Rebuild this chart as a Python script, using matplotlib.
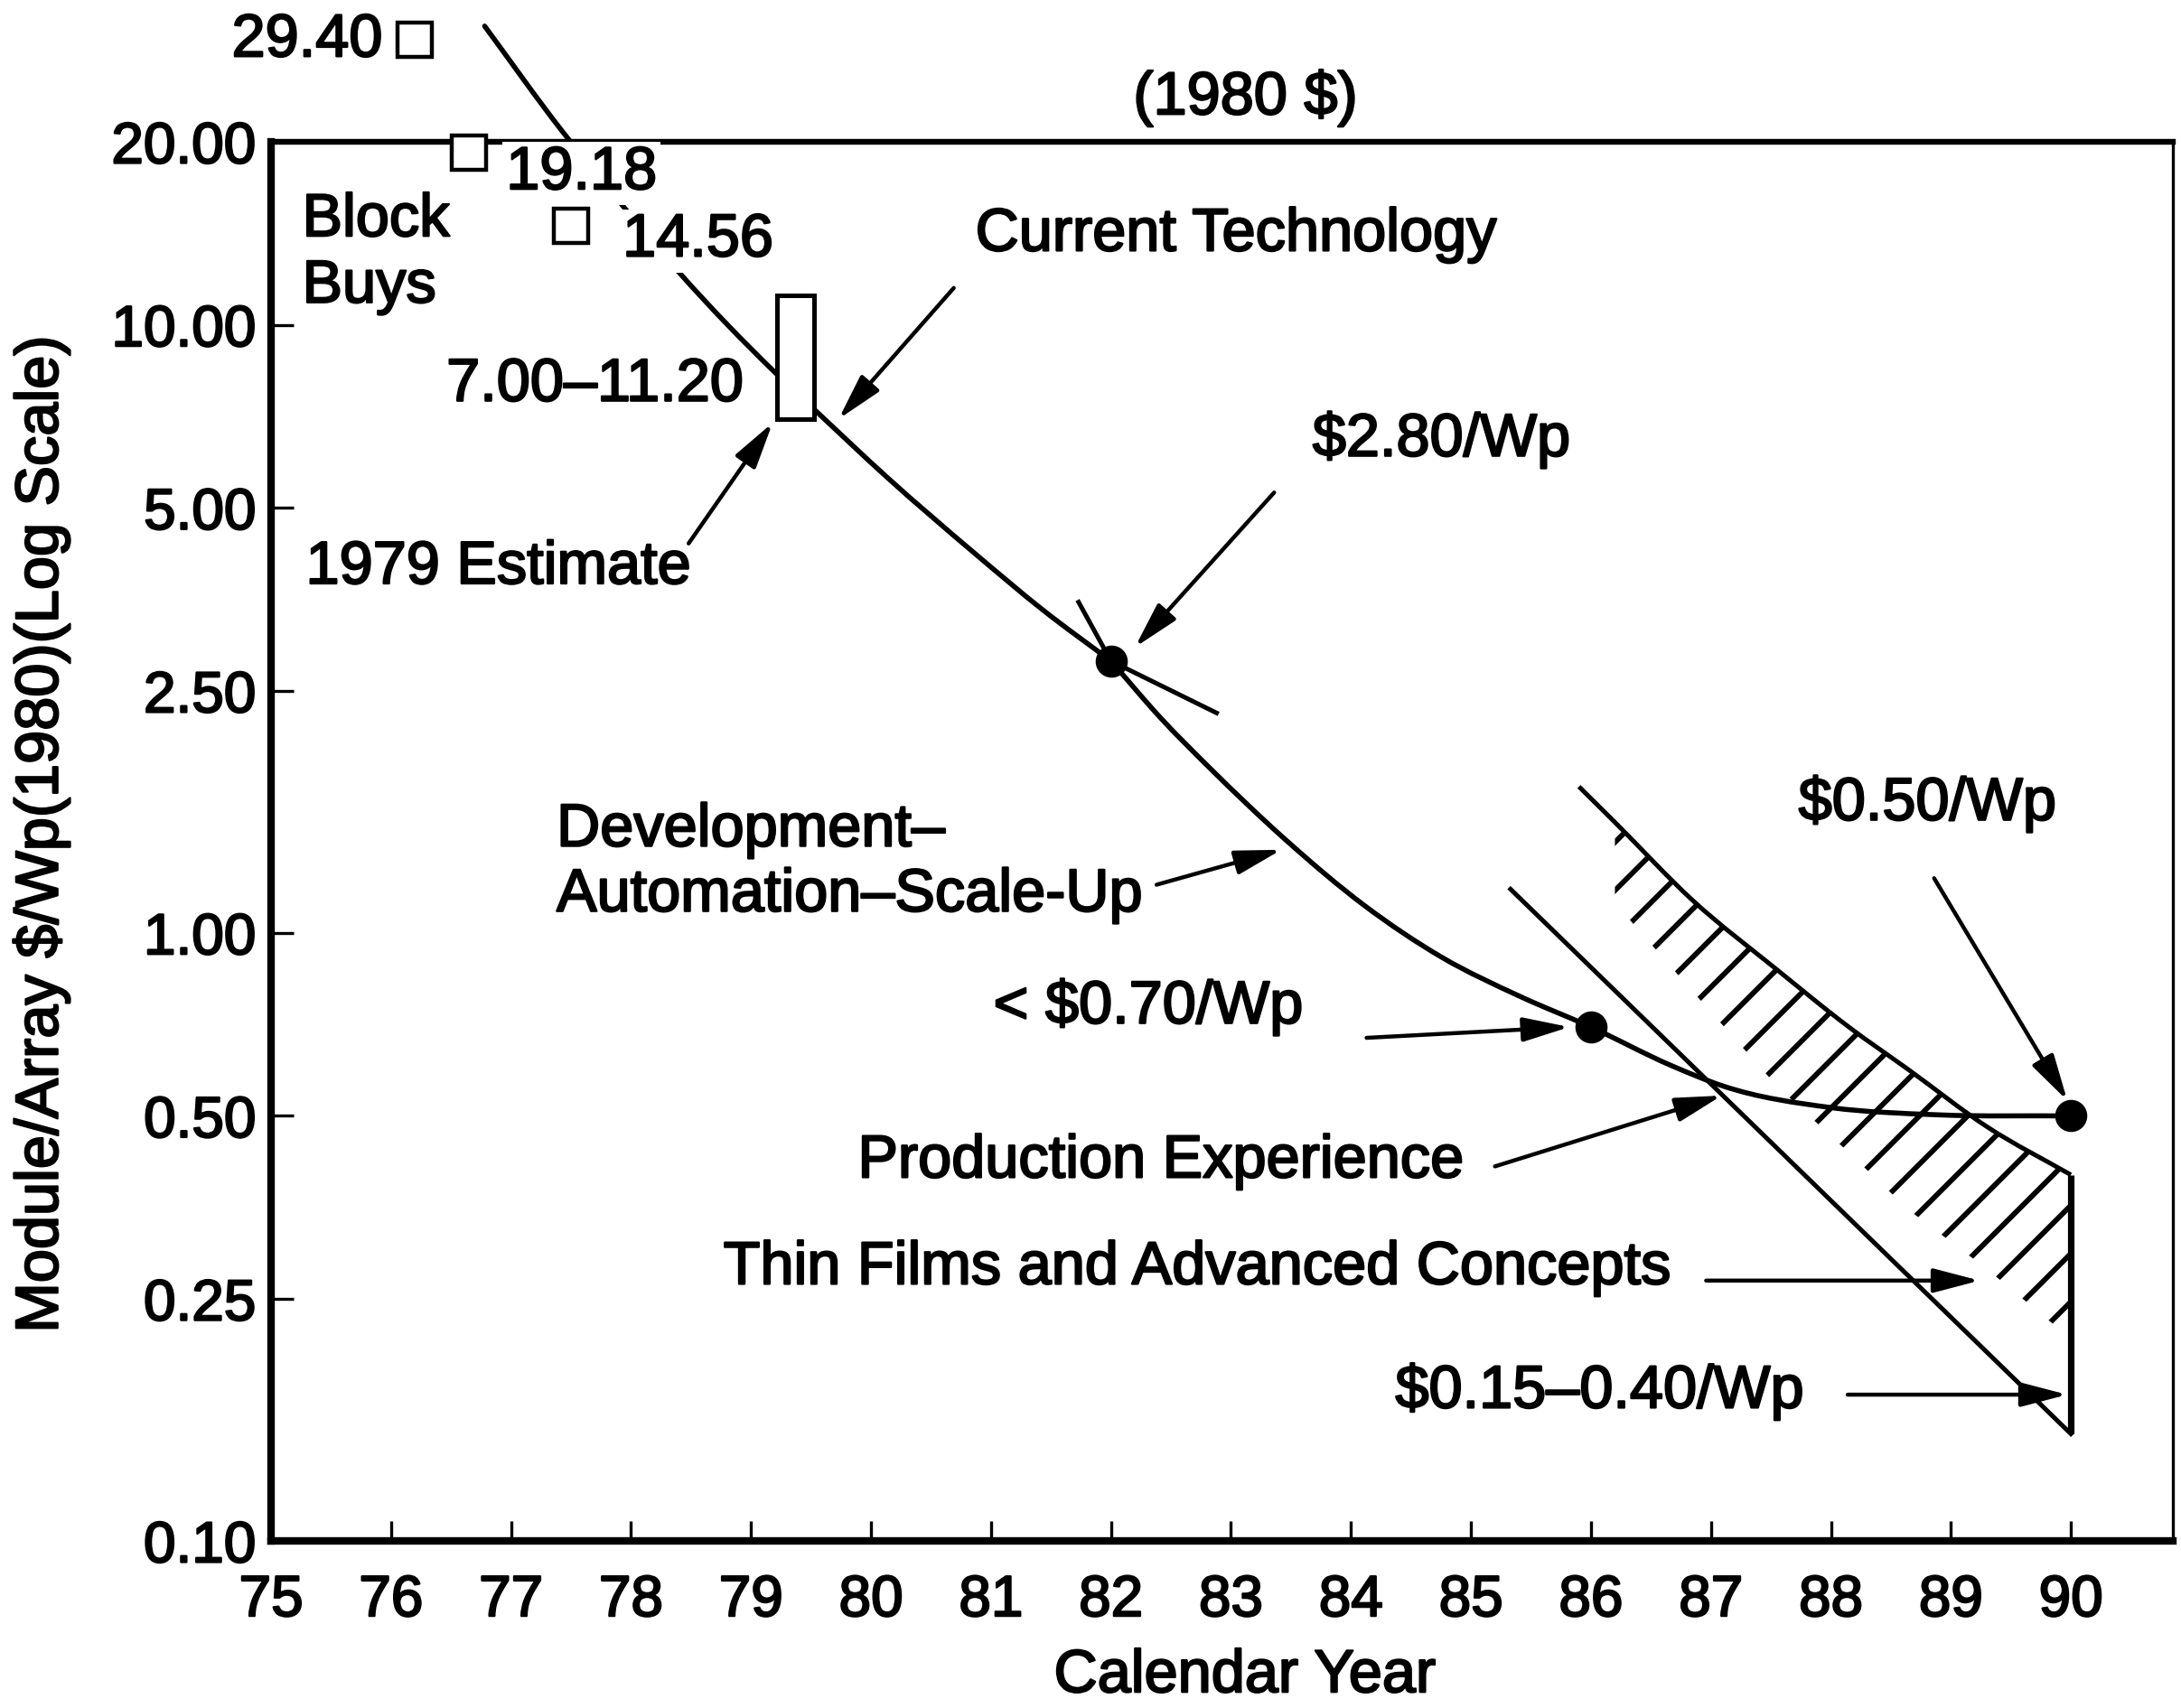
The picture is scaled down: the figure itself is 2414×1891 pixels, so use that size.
import numpy as np
import matplotlib
matplotlib.use("Agg")
import matplotlib.pyplot as plt
import matplotlib.patheffects as pe
from matplotlib.path import Path
from matplotlib.patches import PathPatch
from matplotlib.text import Text
from matplotlib.ticker import NullLocator

DPI = 160
S = 200 / DPI          # point sizes below are given for 200 dpi

plt.rcParams['font.family'] = ['Liberation Sans', 'DejaVu Sans']
plt.rcParams['text.parse_math'] = False
plt.rcParams['hatch.linewidth'] = 2.1 * S

# ---------------------------------------------------------------- data
years = list(range(75, 91))
cost_ticks = [0.10, 0.25, 0.50, 1.00, 2.50, 5.00, 10.00, 20.00]

# block buy purchases
block_buy_years = [76.2, 76.65, 77.5]
block_buy_costs = [29.40, 19.18, 14.56]

# 1979 estimate (range bar)
estimate_year = 79.37
estimate_low = 7.00
estimate_high = 11.20

# price trend: block buys -> current technology (up to 1982) ...
trend_early_years = [76.78, 77.42, 77.83, 78.40, 79.20, 79.53, 80.14, 80.87,
                     81.43, 82.00]
trend_early_costs = [31.0, 20.9, 16.6, 12.2, 8.35, 7.25, 5.60, 4.20,
                     3.40, 2.80]
# ... development / automation / scale-up, then production experience
trend_late_years = [82.00, 82.42, 82.82, 83.46, 84.11, 84.76, 85.41, 86.00,
                    86.67, 87.10, 88.00, 88.90, 90.00]
trend_late_costs = [2.80, 2.25, 1.87, 1.42, 1.11, 0.911, 0.786, 0.70,
                    0.605, 0.56, 0.516, 0.502, 0.50]

# program milestones
milestone_years = [82, 86, 90]
milestone_costs = [2.80, 0.70, 0.50]

# current-technology extrapolation through the 1982 milestone
tangent_years = [81.73, 82.00, 82.88]
tangent_costs = [3.50, 2.80, 2.30]

# thin films and advanced concepts
thin_upper_years = [85.90, 86.20, 86.85, 87.55, 88.15, 88.65, 89.30, 90.00]
thin_upper_costs = [1.74, 1.52, 1.13, 0.87, 0.70, 0.595, 0.48, 0.40]
thin_band_lower = [1.12, 0.80, 0.56, 0.435, 0.35, 0.28, 0.215]
thin_lower_years = [85.33, 90.00]
thin_lower_costs = [1.18, 0.15]
target_1990_range = [0.15, 0.40]


def smooth_path(xs, ys):
    """Cubic Hermite path through the points, built in log-cost space."""
    x = np.asarray(xs, float)
    ly = np.log10(np.asarray(ys, float))
    m = np.gradient(ly, x)
    verts = [(x[0], 10 ** ly[0])]
    codes = [Path.MOVETO]
    for i in range(len(x) - 1):
        h = x[i + 1] - x[i]
        verts += [(x[i] + h / 3, 10 ** (ly[i] + m[i] * h / 3)),
                  (x[i + 1] - h / 3, 10 ** (ly[i + 1] - m[i + 1] * h / 3)),
                  (x[i + 1], 10 ** ly[i + 1])]
        codes += [Path.CURVE4] * 3
    return Path(verts, codes)


# ---------------------------------------------------------------- figure
fig = plt.figure(figsize=(2414 / DPI, 1891 / DPI), dpi=DPI)
ax = fig.add_axes([0.12428, 0.09783, 0.87200, 0.81914])
ax.set_yscale('log')
ax.set_xlim(75, 90.85)
ax.set_ylim(0.1, 20)

TXT = 24 * S
LW = 2.0 * S

# trend curve (extends above the frame toward the first block buy)
for xs, ys in [(trend_early_years, trend_early_costs),
               (trend_late_years, trend_late_costs)]:
    ax.add_patch(PathPatch(smooth_path(xs, ys), fill=False, edgecolor='black',
                           lw=LW, zorder=2, clip_on=False,
                           capstyle='round', joinstyle='round'))
ax.plot(tangent_years, tangent_costs, color='black', lw=1.8 * S, zorder=2)

# block buys
ax.plot(block_buy_years, block_buy_costs, linestyle='none', marker='s',
        markersize=14 * S, markerfacecolor='white', markeredgecolor='black',
        markeredgewidth=1.6 * S, clip_on=False, zorder=6)

# 1979 estimate bar
ax.bar(estimate_year, estimate_high - estimate_low, bottom=estimate_low,
       width=0.31, facecolor='white', edgecolor='black', linewidth=1.8 * S,
       zorder=4)

# milestones
ax.plot(milestone_years, milestone_costs, linestyle='none', marker='o',
        markersize=12 * S, color='black', zorder=6)

# thin films band
ax.add_patch(PathPatch(smooth_path(thin_upper_years, thin_upper_costs),
                       fill=False, edgecolor='black', lw=1.8 * S, zorder=3))
ax.plot(thin_lower_years, thin_lower_costs, color='black', lw=1.8 * S,
        zorder=3)
ax.fill_between(thin_upper_years[1:], thin_band_lower, thin_upper_costs[1:],
                facecolor='none', edgecolor='black', hatch='/', linewidth=0,
                zorder=2)
ax.vlines(90, target_1990_range[0], target_1990_range[1], color='black',
          lw=2.6 * S, zorder=3)

# ---------------------------------------------------------------- axes
ax.set_xticks(years, labels=[str(y) for y in years])
ax.set_yticks(cost_ticks, labels=[f'{v:.2f}' for v in cost_ticks])
ax.yaxis.set_minor_locator(NullLocator())
ax.tick_params(axis='y', direction='in', length=9 * S, width=1.2 * S,
               pad=6 * S, labelsize=23 * S)
ax.tick_params(axis='x', direction='in', length=8 * S, width=1.2 * S,
               pad=13 * S, labelsize=23 * S)
ax.spines['left'].set_linewidth(3.0 * S)
ax.spines['bottom'].set_linewidth(3.0 * S)
ax.spines['top'].set_linewidth(2.3 * S)
ax.spines['right'].set_linewidth(1.2 * S)

ax.set_xlabel('Calendar Year', fontsize=TXT)
ax.xaxis.set_label_coords(0.512, -0.097)
ax.xaxis.label.set_va('center')
ax.set_ylabel('Module/Array $/Wp(1980)(Log Scale)', fontsize=TXT)
ax.yaxis.set_label_coords(-0.1207, 0.505)
ax.yaxis.label.set_va('center')

# ---------------------------------------------------------------- labels
white = dict(facecolor='white', edgecolor='none', pad=1.5 * S)

ax.text(83.12, 23.6, '(1980 $)', fontsize=TXT, ha='center', va='center')
ax.text(75.93, 29.3, '29.40', fontsize=TXT, ha='right', va='center')
ax.text(76.96, 17.73, '19.18', fontsize=TXT, ha='left', va='center',
        bbox=white, zorder=5)
ax.text(77.93, 13.75, '14.56', fontsize=TXT, ha='left', va='center',
        bbox=white, zorder=5)
ax.text(75.26, 16.5, 'Block\nBuys', fontsize=TXT, ha='left', va='top',
        linespacing=1.24)
ax.text(78.94, 7.95, '7.00–11.20', fontsize=TXT, ha='right', va='center')
ax.text(75.29, 3.98, '1979 Estimate', fontsize=TXT, ha='left', va='center')
ax.text(80.87, 14.04, 'Current Technology', fontsize=TXT, ha='left',
        va='center')
ax.text(83.68, 6.47, '$2.80/Wp', fontsize=TXT, ha='left', va='center')
ax.text(77.38, 1.302, 'Development–\nAutomation–Scale-Up', fontsize=TXT,
        ha='left', va='center', linespacing=1.21)
ax.text(81.02, 0.755, '< $0.70/Wp', fontsize=TXT, ha='left', va='center')
ax.text(79.89, 0.420, 'Production Experience', fontsize=TXT, ha='left',
        va='center')
ax.text(78.77, 0.2805, 'Thin Films and Advanced Concepts', fontsize=TXT,
        ha='left', va='center')
ax.text(84.37, 0.176, '$0.15–0.40/Wp', fontsize=TXT, ha='left', va='center')
ax.text(87.73, 1.63, '$0.50/Wp', fontsize=TXT, ha='left', va='center')

arrow_style = dict(arrowstyle='-|>,head_length=0.65,head_width=0.17',
                   color='black', lw=1.6 * S, mutation_scale=24 * S,
                   shrinkA=0, shrinkB=0)


def pointer(tail, tip):
    ax.annotate('', xy=tip, xytext=tail, arrowprops=arrow_style, zorder=7)


pointer((80.69, 11.5), (79.73, 7.0))      # current technology
pointer((78.48, 4.37), (79.18, 6.9))      # 1979 estimate
pointer((83.36, 5.3), (82.2, 2.95))       # $2.80/Wp
pointer((82.38, 1.20), (83.42, 1.37))     # development
pointer((84.13, 0.672), (85.82, 0.70))    # < $0.70/Wp
pointer((85.20, 0.413), (87.09, 0.54))    # production experience
pointer((86.96, 0.268), (89.24, 0.268))   # thin films
pointer((88.14, 0.174), (89.97, 0.174))   # $0.15-0.40/Wp
pointer((88.86, 1.23), (89.97, 0.53))     # $0.50/Wp

# slightly heavier lettering, like the printed original
heavy = [pe.withStroke(linewidth=0.8 * S, foreground='black')]
for t in fig.findobj(Text):
    if t.get_text():
        t.set_path_effects(heavy)

fig.savefig('out.png', dpi=DPI)
